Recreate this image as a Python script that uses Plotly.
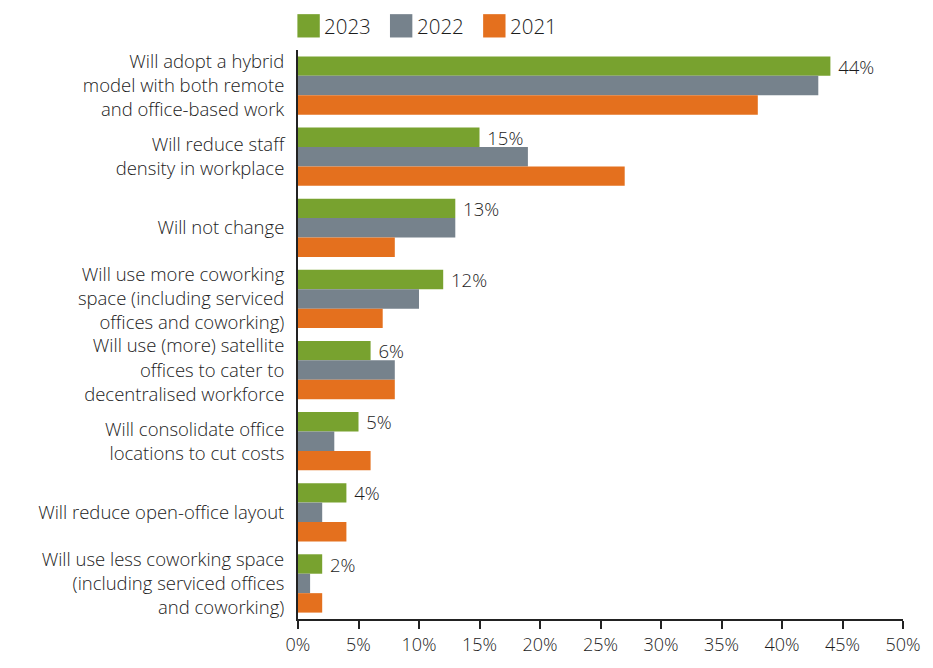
import plotly.graph_objects as go

categories = [
    "Will adopt a hybrid<br>model with both remote<br>and office-based work",
    "Will reduce staff<br>density in workplace",
    "Will not change",
    "Will use more coworking<br>space (including serviced<br>offices and coworking)",
    "Will use (more) satellite<br>offices to cater to<br>decentralised workforce",
    "Will consolidate office<br>locations to cut costs",
    "Will reduce open-office layout",
    "Will use less coworking space<br>(including serviced offices<br>and coworking)",
]
values_2023 = [44, 15, 13, 12, 6, 5, 4, 2]
values_2022 = [43, 19, 13, 10, 8, 3, 2, 1]
values_2021 = [38, 27, 8, 7, 8, 6, 4, 2]
x_ticks = [0, 5, 10, 15, 20, 25, 30, 35, 40, 45, 50]

series = [
    ("2023", values_2023, "#78A22F"),
    ("2022", values_2022, "#76828C"),
    ("2021", values_2021, "#E4701E"),
]

FONT = "Open Sans"
TXT = "#1c1c1c"
W = 300

fig = go.Figure()
for name, vals, color in series:
    fig.add_trace(go.Bar(
        y=categories, x=vals, name=name, orientation="h",
        marker=dict(color=color, line=dict(width=0)),
        text=[f" {v}%" for v in vals] if name == "2023" else None,
        textposition="outside" if name == "2023" else "none",
        constraintext="none",
        textfont=dict(family=FONT, size=18.5, color=TXT, weight=W),
        cliponaxis=False,
        showlegend=False,
    ))

# legend: coloured squares with year labels above the plot
legend_x = [0.0, 0.153, 0.307]
for (name, _, color), lx in zip(series, legend_x):
    fig.add_shape(type="rect", xref="paper", yref="paper",
                  x0=lx - 0.001, x1=lx + 0.036, y0=1.022, y1=1.063,
                  fillcolor=color, line=dict(width=0))
    fig.add_annotation(xref="paper", yref="paper", x=lx + 0.040, y=1.043,
                       text=name, showarrow=False, xanchor="left",
                       yanchor="middle",
                       font=dict(family=FONT, size=20.5, color=TXT, weight=W))

fig.update_layout(
    width=933, height=668,
    margin=dict(l=298, r=25, t=50, b=30),
    paper_bgcolor="white", plot_bgcolor="white",
    barmode="group", bargap=0.18, bargroupgap=0,
    font=dict(family=FONT, size=17, color=TXT, weight=W),
    xaxis=dict(
        range=[0, 50], tickvals=x_ticks,
        ticktext=[f"{t}%" for t in x_ticks],
        showgrid=False, zeroline=False,
        showline=True, linecolor="#222", linewidth=2,
        ticks="outside", ticklen=8, tickwidth=1.5, tickcolor="#222",
        tickfont=dict(family=FONT, size=18, color=TXT, weight=W),
    ),
    yaxis=dict(
        autorange="reversed", showgrid=False, zeroline=False,
        showline=True, linecolor="#222", linewidth=2,
        ticks="", ticklabelstandoff=8,
        tickfont=dict(family=FONT, size=18.5, color=TXT, weight=W),
    ),
)

fig.write_html("out.html")
